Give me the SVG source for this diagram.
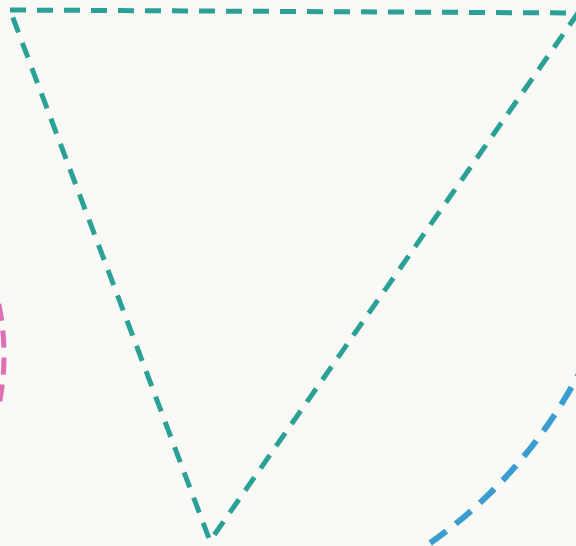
<svg xmlns="http://www.w3.org/2000/svg" width="576" height="546" viewBox="0 0 576 546">
<style>
.tri{fill:none;stroke:#2aa096;stroke-width:5;stroke-dasharray:16 11;stroke-linejoin:miter}
.pink{fill:none;stroke:#df6fb4;stroke-width:5;stroke-dasharray:17 10}
.blue{fill:none;stroke:#3a9dd0;stroke-width:6;stroke-dasharray:20 12}
</style>
<rect width="576" height="546" fill="#f9f9f6"/>
<g id="triangle">
<path class="tri" d="M10,10 L578,13 L210,541 Z"/>
</g>
<g id="pink-arc">
<path class="pink" d="M-2,300 A255,255 0 0 1 -2,410" stroke-dashoffset="-4"/>
</g>
<g id="blue-arc">
<path class="blue" d="M600,330 Q540,470 420,550"/>
</g>
</svg>
